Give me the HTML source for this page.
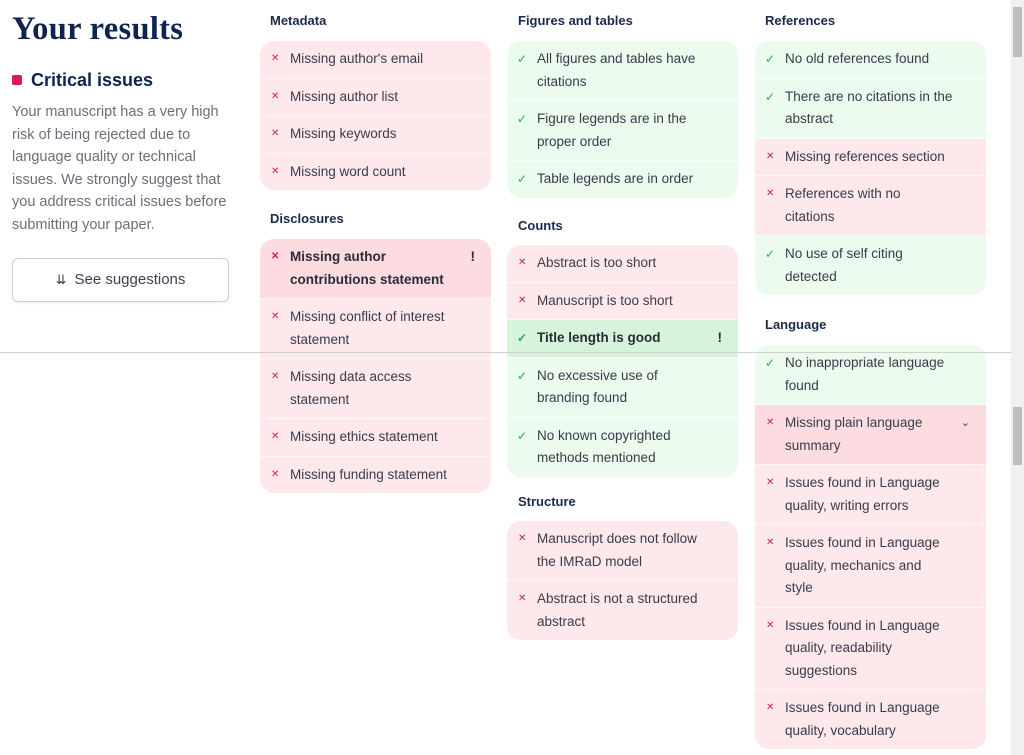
<!DOCTYPE html>
<html><head><meta charset="utf-8"><style>
*{box-sizing:border-box;margin:0;padding:0}
body{width:1024px;height:755px;overflow:hidden;background:#fff;font-family:"Liberation Sans",sans-serif;position:relative;color:#3a3b4a}
h1{position:absolute;left:12px;top:11px;font-family:"Liberation Serif",serif;font-size:32.5px;color:#0f2350;font-weight:bold;letter-spacing:0.3px}
.crit{position:absolute;left:12px;top:70px;font-size:18px;font-weight:bold;color:#0f2350}
.crit:before{content:"";display:inline-block;width:10px;height:10px;background:#d21f4b;border-radius:2px;margin-right:9px;vertical-align:1px}
.desc{position:absolute;left:12px;top:101px;width:225px;font-size:14.5px;line-height:22.5px;color:#6b6f7b}
.btn{position:absolute;left:12px;top:258px;width:217px;height:44px;border:1px solid #c8cfe0;border-radius:6px;text-align:center;line-height:42px;font-size:15px;color:#3a4152;box-shadow:0 1px 3px rgba(0,0,0,.08)}
.h{position:absolute;font-size:13px;font-weight:bold;color:#1c2a4a}
.box{position:absolute;width:231px;border-radius:14px;overflow:hidden}
.r{position:relative;padding:7px 35px 7px 30px;font-size:13.5px;line-height:22.5px;border-bottom:1px solid rgba(255,255,255,.7)}
.r:last-child{border-bottom:none}
.r:before{position:absolute;left:10px;top:7px;font-size:12px}
.x{background:#fde8eb}.x:before{content:"✕";color:#d21f4b;font-size:10px;left:11px}
.g{background:#ebfbee}.g:before{content:"✓";color:#2aa84a}
.xd{background:#fcdce1}.gd{background:#d5f4db}
.b{font-weight:bold;color:#2a2b36}
.ex{position:absolute;right:16px;top:7px;font-weight:bold}
.sb{position:absolute;left:1011px;top:0;width:13px;height:755px;background:#f0f0f0}
.th{position:absolute;left:1013px;width:9px;background:#bdbdbd}
.line{position:absolute;left:0;top:352px;width:1011px;height:1px;background:#cfcfcf}
</style></head><body>
<h1>Your results</h1>
<div class="crit">Critical issues</div>
<div class="desc">Your manuscript has a very high risk of being rejected due to language quality or technical issues. We strongly suggest that you address critical issues before submitting your paper.</div>
<div class="btn"><span style="font-size:13px;margin-right:8px">&#8650;</span>See suggestions</div>

<div class="h" style="left:270px;top:13px">Metadata</div>
<div class="box" style="left:260px;top:41px">
<div class="r x">Missing author's email</div>
<div class="r x">Missing author list</div>
<div class="r x">Missing keywords</div>
<div class="r x">Missing word count</div>
</div>
<div class="h" style="left:270px;top:211px">Disclosures</div>
<div class="box" style="left:260px;top:239px">
<div class="r x xd b">Missing author contributions statement<span class="ex">!</span></div>
<div class="r x">Missing conflict of interest statement</div>
<div class="r x">Missing data access statement</div>
<div class="r x">Missing ethics statement</div>
<div class="r x">Missing funding statement</div>
</div>

<div class="h" style="left:518px;top:13px">Figures and tables</div>
<div class="box" style="left:507px;top:41px">
<div class="r g">All figures and tables have citations</div>
<div class="r g">Figure legends are in the proper order</div>
<div class="r g">Table legends are in order</div>
</div>
<div class="h" style="left:518px;top:218px">Counts</div>
<div class="box" style="left:507px;top:245px">
<div class="r x">Abstract is too short</div>
<div class="r x">Manuscript is too short</div>
<div class="r g gd b">Title length is good<span class="ex">!</span></div>
<div class="r g">No excessive use of branding found</div>
<div class="r g">No known copyrighted methods mentioned</div>
</div>
<div class="h" style="left:518px;top:494px">Structure</div>
<div class="box" style="left:507px;top:521px">
<div class="r x">Manuscript does not follow the IMRaD model</div>
<div class="r x">Abstract is not a structured abstract</div>
</div>

<div class="h" style="left:765px;top:13px">References</div>
<div class="box" style="left:755px;top:41px">
<div class="r g">No old references found</div>
<div class="r g" style="padding-right:20px">There are no citations in the abstract</div>
<div class="r x">Missing references section</div>
<div class="r x">References with no citations</div>
<div class="r g">No use of self citing detected</div>
</div>
<div class="h" style="left:765px;top:317px">Language</div>
<div class="box" style="left:755px;top:345px">
<div class="r g">No inappropriate language found</div>
<div class="r x xd">Missing plain language summary<span class="ex" style="font-weight:normal;font-size:11px">&#8964;</span></div>
<div class="r x">Issues found in Language quality, writing errors</div>
<div class="r x">Issues found in Language quality, mechanics and style</div>
<div class="r x">Issues found in Language quality, readability suggestions</div>
<div class="r x">Issues found in Language quality, vocabulary</div>
</div>

<div class="line"></div>
<div class="sb"></div>
<div class="th" style="top:7px;height:50px"></div>
<div class="th" style="top:407px;height:58px"></div>
</body></html>
